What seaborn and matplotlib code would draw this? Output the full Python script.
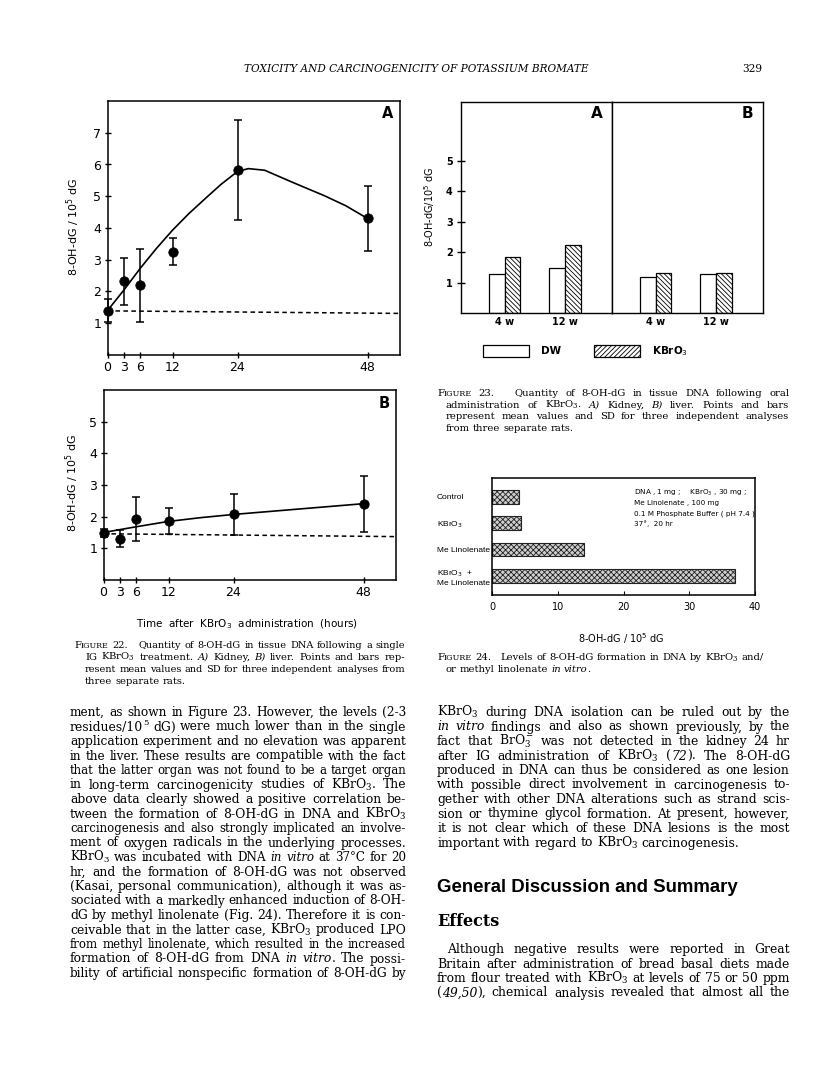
import matplotlib
matplotlib.use("Agg")
import matplotlib.pyplot as plt
from matplotlib.patches import Patch
import seaborn as sns
import pandas as pd

# ---------------- data ----------------
# Figure 22 A (kidney) : hours, mean, SD
tA = [0, 3, 6, 12, 24, 48]
meanA = [1.40, 2.32, 2.20, 3.25, 5.82, 4.30]
sdA = [0.35, 0.73, 1.15, 0.43, 1.57, 1.02]
curveA_t = [0, 3, 6, 9, 12, 15, 18, 21, 24, 26, 29, 34, 40, 44, 48]
curveA_v = [1.40, 2.04, 2.72, 3.35, 3.93, 4.45, 4.92, 5.38, 5.78, 5.87, 5.82, 5.45, 5.02, 4.70, 4.30]
baseA_t = [0, 54]
baseA_v = [1.39, 1.31]

# Figure 22 B (liver)
tB = [0, 3, 6, 12, 24, 48]
meanB = [1.48, 1.30, 1.93, 1.87, 2.08, 2.40]
sdB = [0.12, 0.27, 0.70, 0.41, 0.65, 0.87]
curveB_t = [0, 6, 12, 18, 24, 36, 48]
curveB_v = [1.50, 1.68, 1.85, 1.97, 2.07, 2.24, 2.41]
baseB_t = [0, 54]
baseB_v = [1.46, 1.37]
x_ticks22 = [0, 3, 6, 12, 24, 48]

# Figure 23 (oral administration)
weeks23 = ["4 w", "12 w"]
groups23 = ["DW", "KBrO$_3$"]
kidney23 = {"DW": [1.27, 1.48], "KBrO$_3$": [1.84, 2.24]}
liver23 = {"DW": [1.18, 1.27], "KBrO$_3$": [1.30, 1.30]}

# Figure 24 (in vitro)
cats24 = ["Control", "KBrO$_3$", "Me Linolenate", "KBrO$_3$  +\nMe Linolenate"]
vals24 = [4.0, 4.4, 14.0, 37.0]
note24 = ["DNA , 1 mg ;    KBrO$_3$ , 30 mg ;",
          "Me Linolenate , 100 mg",
          "0.1 M Phosphate Buffer ( pH 7.4 )",
          "37°,  20 hr"]

# ---------------- page text ----------------
header = "TOXICITY AND CARCINOGENICITY OF POTASSIUM BROMATE"
page_no = "329"
cap22 = ["FIGURE 22.   Quantity of 8-OH-dG in tissue DNA following a single",
         "IG KBrO$_3$ treatment. *A)* Kidney, *B)* liver. Points and bars rep-",
         "resent mean values and SD for three independent analyses from",
         "three separate rats."]
cap23 = ["FIGURE 23.   Quantity of 8-OH-dG in tissue DNA following oral",
         "administration of KBrO$_3$. *A)* Kidney, *B)* liver. Points and bars",
         "represent mean values and SD for three independent analyses",
         "from three separate rats."]
cap24 = ["FIGURE 24.   Levels of 8-OH-dG formation in DNA by KBrO$_3$ and/",
         "or methyl linolenate *in* *vitro*."]
left_col = [
    "ment, as shown in Figure 23. However, the levels (2-3",
    "residues/10^5 dG) were much lower than in the single",
    "application experiment and no elevation was apparent",
    "in the liver. These results are compatible with the fact",
    "that the latter organ was not found to be a target organ",
    "in long-term carcinogenicity studies of KBrO$_3$. The",
    "above data clearly showed a positive correlation be-",
    "tween the formation of 8-OH-dG in DNA and KBrO$_3$",
    "carcinogenesis and also strongly implicated an involve-",
    "ment of oxygen radicals in the underlying processes.",
    "KBrO$_3$ was incubated with DNA *in* *vitro* at 37°C for 20",
    "hr, and the formation of 8-OH-dG was not observed",
    "(Kasai, personal communication), although it was as-",
    "sociated with a markedly enhanced induction of 8-OH-",
    "dG by methyl linolenate (Fig. 24). Therefore it is con-",
    "ceivable that in the latter case, KBrO$_3$ produced LPO",
    "from methyl linolenate, which resulted in the increased",
    "formation of 8-OH-dG from DNA *in* *vitro*. The possi-",
    "bility of artificial nonspecific formation of 8-OH-dG by"]
right_col = [
    "KBrO$_3$ during DNA isolation can be ruled out by the",
    "*in* *vitro* findings and also as shown previously, by the",
    "fact that BrO$_3^-$ was not detected in the kidney 24 hr",
    "after IG administration of KBrO$_3$ (*72*). The 8-OH-dG",
    "produced in DNA can thus be considered as one lesion",
    "with possible direct involvement in carcinogenesis to-",
    "gether with other DNA alterations such as strand scis-",
    "sion or thymine glycol formation. At present, however,",
    "it is not clear which of these DNA lesions is the most",
    "important with regard to KBrO$_3$ carcinogenesis."]
heading1 = "General Discussion and Summary"
heading2 = "Effects"
right_col2 = [
    "Although negative results were reported in Great",
    "Britain after administration of bread basal diets made",
    "from flour treated with KBrO$_3$ at levels of 75 or 50 ppm",
    "(*49,50*), chemical analysis revealed that almost all the"]

# ---------------- figure setup ----------------
sns.set_style("ticks", {"axes.edgecolor": "k", "xtick.color": "k", "ytick.color": "k",
                        "text.color": "k", "axes.labelcolor": "k"})
plt.rcParams["font.family"] = ["DejaVu Sans"]
plt.rcParams["hatch.linewidth"] = 0.6

W, H = 816, 1065
fig = plt.figure(figsize=(W / 100, H / 100), dpi=100)
fig.patch.set_facecolor("white")


def add_ax(l, t, r, b):
    return fig.add_axes([l / W, 1 - b / H, (r - l) / W, (b - t) / H])


def ftext(x, y, s, **kw):
    return fig.text(x / W, 1 - y / H, s, **kw)


def style_frame(ax, lw=1.1):
    for sp in ax.spines.values():
        sp.set_visible(True)
        sp.set_linewidth(lw)
        sp.set_color("k")
    ax.set_facecolor("white")


# ---------------- Figure 22 ----------------
def panel22(ax, t, m, sd, ct, cv, bt, bv, ymax, yt, letter, lpos):
    sns.lineplot(x=ct, y=cv, ax=ax, color="k", lw=1.2, estimator=None, sort=False)
    sns.lineplot(x=bt, y=bv, ax=ax, color="k", lw=1.1, estimator=None, linestyle=(0, (3, 2.2)))
    ax.errorbar(t, m, yerr=sd, fmt="none", ecolor="k", elinewidth=1.1, capsize=3,
                capthick=1.1, clip_on=False, zorder=4)
    sns.scatterplot(x=t, y=m, ax=ax, color="k", s=46, edgecolor="k", zorder=5, clip_on=False)
    ax.set_xlim(0, 54)
    ax.set_ylim(0, ymax)
    ax.set_xticks(x_ticks22)
    ax.set_yticks(yt)
    ax.tick_params(direction="inout", length=5, width=1, labelsize=9, pad=2)
    style_frame(ax)
    ax.set_xlabel("")
    ax.set_ylabel("")
    ax.text(lpos[0], lpos[1], letter, transform=ax.transAxes, fontsize=10.5,
            fontweight="bold", ha="center", va="center")


axA = add_ax(107.5, 101, 400, 355)
panel22(axA, tA, meanA, sdA, curveA_t, curveA_v, baseA_t, baseA_v, 8, range(1, 8), "A",
        ((388 - 107.5) / 292.5, (355 - 113) / 254))
axA.set_ylabel("8-OH-dG / 10$^5$ dG", fontsize=8)
axA.yaxis.set_label_coords((82 - 107.5) / 292.5, (355 - 227) / 254)

axB = add_ax(103.5, 390, 396, 580)
panel22(axB, tB, meanB, sdB, curveB_t, curveB_v, baseB_t, baseB_v, 6, range(1, 6), "B",
        ((384 - 103.5) / 292.5, (580 - 403) / 190))
axB.set_ylabel("8-OH-dG / 10$^5$ dG", fontsize=8)
axB.yaxis.set_label_coords((81 - 103.5) / 292.5, (580 - 483) / 190)
axB.set_xlabel("Time  after  KBrO$_3$  administration  (hours)", fontsize=7.5)
axB.xaxis.set_label_coords((247 - 103.5) / 292.5, (580 - 617) / 190)


# ---------------- Figure 23 ----------------
def panel23(ax, data, letter, show_y):
    df = pd.DataFrame([(w, g, data[g][i]) for g in groups23 for i, w in enumerate(weeks23)],
                      columns=["week", "grp", "val"])
    sns.barplot(data=df, x="week", y="val", hue="grp", hue_order=groups23, order=weeks23,
                width=0.52, ax=ax, palette=["white", "white"], edgecolor="k", linewidth=0.9,
                legend=False, saturation=1)
    for p in ax.containers[1]:
        p.set_hatch("\\\\\\\\\\\\\\")
    ax.set_xlim(-0.725, 1.775)
    ax.set_ylim(0, 6.93)
    ax.set_xlabel("")
    ax.set_ylabel("")
    style_frame(ax, 1.0)
    ax.tick_params(axis="x", length=0, labelsize=7, pad=3)
    if show_y:
        ax.set_yticks(range(1, 6))
        ax.tick_params(axis="y", direction="inout", length=6, width=1, labelsize=7, pad=3)
    else:
        ax.set_yticks([])
    for lab in ax.get_xticklabels() + ax.get_yticklabels():
        lab.set_fontweight("bold")
    ax.text(0.9, (313 - 114) / 211, letter, transform=ax.transAxes, fontsize=11,
            fontweight="bold", ha="center", va="center")


ax23a = add_ax(461, 102, 612, 313)
panel23(ax23a, kidney23, "A", True)
ax23a.set_ylabel("8-OH-dG/10$^5$ dG", fontsize=7)
ax23a.yaxis.set_label_coords((437 - 461) / 151, (313 - 207) / 211)
ax23b = add_ax(612, 102, 763, 313)
panel23(ax23b, liver23, "B", False)

handles = [Patch(facecolor="white", edgecolor="k", linewidth=0.9),
           Patch(facecolor="white", edgecolor="k", linewidth=0.9, hatch="///////")]
leg = fig.legend(handles, groups23, loc="center left", bbox_to_anchor=(483 / W, 1 - 351 / H),
                 ncol=2, frameon=False, fontsize=7.5, handlelength=4.4, handleheight=1.4,
                 handletextpad=1.15, columnspacing=3.2, borderpad=0, borderaxespad=0)
for t in leg.get_texts():
    t.set_fontweight("bold")

# ---------------- Figure 24 ----------------
ax24 = add_ax(492.3, 477.7, 754.7, 595)
sns.barplot(x=vals24, y=cats24, orient="h", ax=ax24, color="white", width=0.51,
            edgecolor="#222222", linewidth=0.8, saturation=1)
for p in ax24.patches:
    p.set_facecolor("#cfcfcf")
    p.set_hatch("xxxxxx")
ax24.set_xlim(0, 40)
ax24.set_ylim(3.71, -0.72)
ax24.set_xticks([0, 10, 20, 30, 40])
style_frame(ax24, 1.1)
ax24.tick_params(axis="x", direction="in", length=3, labelsize=7, pad=5)
ax24.tick_params(axis="y", length=0, labelsize=6.0, pad=(492.3 - 437) / 1.389)
for lab in ax24.get_yticklabels():
    lab.set_horizontalalignment("left")
    lab.set_family("Liberation Sans")
ax24.set_xlabel("8-OH-dG / 10$^5$ dG", fontsize=7)
ax24.xaxis.set_label_coords((621.5 - 492.3) / 262.4, (595 - 631) / 117.3)
ax24.set_ylabel("")
for i, s in enumerate(note24):
    ftext(634, 493 + i * 10.2, s, fontsize=5.2, va="center", ha="left")

# ---------------- page text ----------------
renderer = fig.canvas.get_renderer()


def layout_words(text, size, family, weight):
    tokens = text.split(" ")
    groups, gapw = [], []
    for w in tokens:
        if not w:
            if gapw:
                gapw[-1] += 1
            continue
        segs = []
        parts = w.split("*")
        for i, p in enumerate(parts):
            if not p:
                continue
            style = "italic" if i % 2 == 1 else "normal"
            if p == "FIGURE":
                sub = [("F", 1.0, 0.0), ("IGURE", 0.8, 0.0)]
            elif "^" in p and "$" not in p:
                base, sup = p.split("^", 1)
                sub = [(base, 1.0, 0.0), (sup, 0.68, 0.42)]
            else:
                sub = [(p, 1.0, 0.0)]
            for s, sc, rise in sub:
                t = fig.text(0, 0, s, fontsize=size * sc, family=family, style=style,
                             weight=weight, va="baseline", ha="left",
                             math_fontfamily="dejavuserif")
                segs.append((t, sc, rise))
        groups.append(segs)
        gapw.append(1)
    gapw[-1] = 0
    return groups, gapw


def draw_line(text, x0, x1, y, size, justify, family="DejaVu Serif", weight="normal",
              min_gap=3.0):
    groups, gapw = layout_words(text, size, family, weight)
    units = sum(gapw)
    while True:
        widths = [[t.get_window_extent(renderer).width for t, _, _ in g] for g in groups]
        total = sum(sum(w) for w in widths)
        if justify and units > 0:
            gap = (x1 - x0 - total) / units
        else:
            gap = size * 1.389 * 0.3
        if (not justify) or gap >= min_gap or size < 5:
            break
        size -= 0.15
        for g in groups:
            for t, sc, _ in g:
                t.set_fontsize(size * sc)
    x = x0
    for g, ws, gw in zip(groups, widths, gapw):
        for (t, _, rise), w in zip(g, ws):
            t.set_position((x / W, 1 - (y - rise * size * 1.389) / H))
            x += w
        x += gap * gw


def draw_block(lines, x0, x1, y0, dy, size, indent=0, first_indent=0, last_justify=False,
               min_gap=3.0):
    for i, s in enumerate(lines):
        xs = x0 + (first_indent if i == 0 else indent)
        just = (i < len(lines) - 1) or last_justify
        draw_line(s, xs, x1, y0 + i * dy, size, just, min_gap=min_gap)


ftext(416, 72, header, fontsize=7.6, family="DejaVu Serif", style="italic", ha="center",
      va="baseline")
ftext(762, 72, page_no, fontsize=7.6, family="DejaVu Serif", ha="right", va="baseline")

draw_block(cap22, 74, 405, 648, 11.9, 7.2, indent=11, min_gap=3.0)
draw_block(cap23, 437, 789, 396, 11.7, 7.2, indent=9, min_gap=3.0)
draw_block(cap24, 437, 764, 660, 11.5, 7.2, indent=9, min_gap=3.0)

draw_block(left_col, 70, 406, 716, 14.5, 8.9, last_justify=True, min_gap=4.0)
draw_block(right_col, 437, 790, 716, 14.5, 8.9, min_gap=4.0)
ftext(437, 892, heading1, fontsize=13.4, family="Liberation Sans", weight="bold", ha="left",
      va="baseline")
ftext(437, 926, heading2, fontsize=11.5, family="DejaVu Serif", weight="bold", ha="left",
      va="baseline")
draw_block(right_col2, 437, 790, 953, 14.5, 8.9, first_indent=10, last_justify=True,
           min_gap=4.0)

fig.savefig("out.png", dpi=100, facecolor="white")
